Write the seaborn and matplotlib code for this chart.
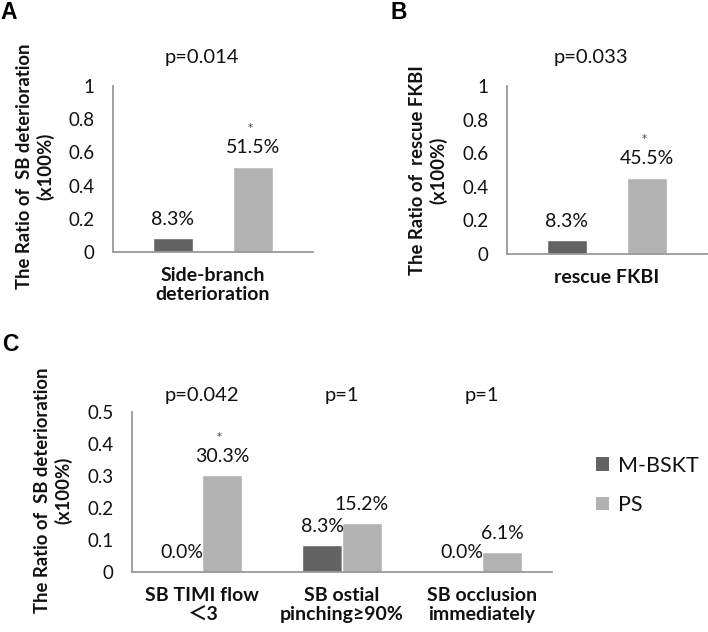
import matplotlib
matplotlib.use("Agg")
import matplotlib.pyplot as plt
import matplotlib.transforms as mtrans
from matplotlib.patches import Patch
import seaborn as sns
import pandas as pd

# ---------------- data ----------------
groups = ["M-BSKT", "PS"]
group_colors = ["#636363", "#b2b2b2"]

a_categories = ["Side-branch\ndeterioration"]
a_mbskt = [0.083]
a_ps = [0.515]
a_pvalues = ["p=0.014"]
a_ps_star = [True]

b_categories = ["rescue FKBI"]
b_mbskt = [0.083]
b_ps = [0.455]
b_pvalues = ["p=0.033"]
b_ps_star = [True]

c_categories = ["SB TIMI flow\n＜3", "SB ostial\npinching≥90%", "SB occlusion\nimmediately"]
c_mbskt = [0.0, 0.083, 0.0]
c_ps = [0.303, 0.152, 0.061]
c_pvalues = ["p=0.042", "p=1", "p=1"]
c_ps_star = [True, False, False]

ab_yticks = [0, 0.2, 0.4, 0.6, 0.8, 1]
c_yticks = [0, 0.1, 0.2, 0.3, 0.4, 0.5]

ylabel_a = "The Ratio of  SB deterioration\n(x100%)"
ylabel_b = "The Ratio of  rescue FKBI\n(x100%)"
ylabel_c = "The Ratio of  SB deterioration\n(x100%)"

# ---------------- style ----------------
sns.set_style("white")
plt.rcParams["font.family"] = ["Lato", "Noto Sans CJK SC", "DejaVu Sans"]
TXT = "#111111"
SPINE = "#999999"
W, H = 708, 632

fig = plt.figure(figsize=(W / 100, H / 100), dpi=100)


def px_axes(left, top, right, bottom):
    return fig.add_axes([left / W, 1 - bottom / H, (right - left) / W, (bottom - top) / H])


def make_df(cats, m, p):
    return pd.DataFrame({
        "cat": list(cats) * 2,
        "group": [groups[0]] * len(cats) + [groups[1]] * len(cats),
        "value": list(m) + list(p),
    })


def draw_panel(ax, cats, m, p, stars, yticks, width, gap):
    df = make_df(cats, m, p)
    sns.barplot(data=df, x="cat", y="value", hue="group", hue_order=groups,
                order=cats, palette=group_colors, width=width, gap=gap,
                saturation=1, errorbar=None, legend=False, ax=ax)
    ax.set_ylim(0, yticks[-1])
    ax.set_yticks(yticks)
    ax.set_yticklabels([f"{t:g}" for t in yticks], fontsize=13.5, color=TXT)
    ax.set_xlabel("")
    ax.set_ylabel("")
    ax.tick_params(axis="y", length=0, pad=13.5)
    ax.tick_params(axis="x", length=0, pad=10.5)
    for lab in ax.get_xticklabels():
        lab.set_fontweight("bold")
        lab.set_fontsize(14)
        lab.set_color(TXT)
        lab.set_linespacing(1.2)
    for s in ["top", "right"]:
        ax.spines[s].set_visible(False)
    for s in ["left", "bottom"]:
        ax.spines[s].set_color(SPINE)
        ax.spines[s].set_linewidth(1.3)
    # value labels
    for gi, cont in enumerate(ax.containers):
        for bi, bar in enumerate(cont):
            h = bar.get_height()
            xc = bar.get_x() + bar.get_width() / 2
            ax.annotate(f"{h * 100:.1f}%", (xc, h), xytext=(0, 13.7),
                        textcoords="offset points", ha="center", va="center",
                        fontsize=14, color=TXT, annotation_clip=False)
            if gi == 1 and stars[bi]:
                ax.annotate("*", (xc, h), xytext=(-2, 27.5),
                            textcoords="offset points", ha="center", va="center",
                            fontsize=7.5, family="DejaVu Sans", color="#444444",
                            annotation_clip=False)


# ---------------- panel A ----------------
axA = px_axes(113, 86, 313, 252)
draw_panel(axA, a_categories, a_mbskt, a_ps, a_ps_star, ab_yticks, 0.8, 0.5)
axA.text(-0.055, 1 + 29 / 166, a_pvalues[0], transform=mtrans.blended_transform_factory(axA.transData, axA.transAxes),
         ha="center", va="center", fontsize=14.5, color=TXT)

# ---------------- panel B ----------------
axB = px_axes(507, 86, 707, 254)
draw_panel(axB, b_categories, b_mbskt, b_ps, b_ps_star, ab_yticks, 0.8, 0.5)
axB.text(-0.08, 1 + 29 / 168, b_pvalues[0], transform=mtrans.blended_transform_factory(axB.transData, axB.transAxes),
         ha="center", va="center", fontsize=14.5, color=TXT)

# ---------------- panel C ----------------
axC = px_axes(132, 412, 552, 572)
draw_panel(axC, c_categories, c_mbskt, c_ps, c_ps_star, c_yticks, 0.57, 0)
tC = mtrans.blended_transform_factory(axC.transData, axC.transAxes)
for i, pv in enumerate(c_pvalues):
    axC.text(i, 1 + 17 / 160, pv, transform=tC, ha="center", va="center", fontsize=14.5, color=TXT)

handles = [Patch(facecolor=c, edgecolor="none") for c in group_colors]
axC.legend(handles, groups, loc="center left", bbox_to_anchor=(577 / W, 1 - 485.5 / H),
           bbox_transform=fig.transFigure, frameon=False, fontsize=15.5,
           handlelength=0.6, handleheight=0.6, handletextpad=0.4, labelspacing=0.9,
           labelcolor=TXT)

# ---------------- y labels ----------------
for (x, y, t) in [(35.5, 166, ylabel_a), (428.5, 170, ylabel_b), (53, 490, ylabel_c)]:
    fig.text(x / W, 1 - y / H, t, rotation=90, ha="center", va="center",
             multialignment="center", fontweight="bold", fontsize=13.3,
             linespacing=1.2, color=TXT)

# ---------------- panel letters ----------------
for (x, y, t) in [(0, 1, "A"), (390, 1, "B"), (2, 333, "C")]:
    fig.text(x / W, 1 - y / H, t, ha="left", va="top", fontsize=16.5, fontweight="bold",
             family="Liberation Sans", color="#000000")

fig.savefig("out.png", dpi=100)
